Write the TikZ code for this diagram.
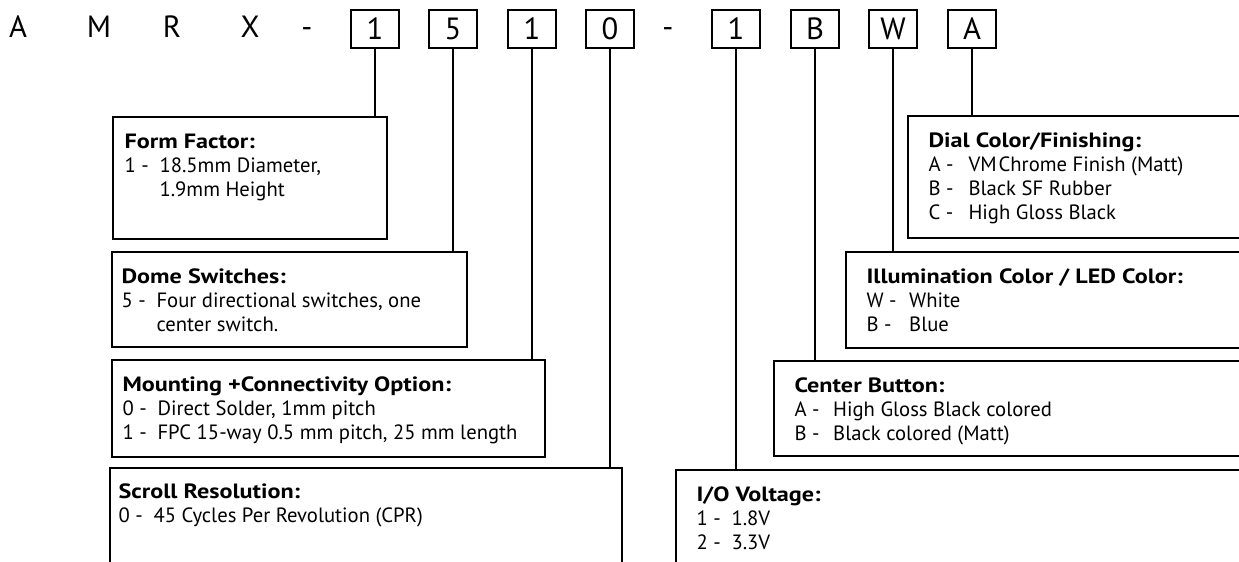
\documentclass[tikz,border=0pt]{standalone}
\usepackage{fontspec}
\setmainfont{PT Sans}[BoldFeatures={FakeStretch=1.17}]
\usetikzlibrary{positioning, calc, fit}

% one option line: key, then its value
\newcommand{\optline}[3][26.25pt]{\makebox[#1][l]{#2}#3}

\begin{document}
\begin{tikzpicture}[x=0.75pt, y=-0.75pt,
			letter/.style = {anchor=base, inner sep=0pt, font=\fontsize{23}{26}\selectfont},
			digit/.style = {rectangle, draw, line width=0.9pt, minimum width=36pt, minimum height=28.5pt, inner sep=0pt, font=\fontsize{23}{26}\selectfont},
			panel/.style = {rectangle, draw, line width=1.1pt, inner sep=0pt},
			legend/.style = {anchor=north west, align=left, inner sep=0pt, font=\fontsize{15.5}{18}\selectfont},
			link/.style = {line width=1.1pt},
		]

		\useasboundingbox (0,0) rectangle (1239,561);
		\clip (0,0) rectangle (1239,561);

		% part number
		\node[letter](pA) at (18,37.5){A};
		\node[letter](pM) at (99,37.5){M};
		\node[letter](pR) at (172,37.5){R};
		\node[letter](pX) at (250,37.5){X};
		\node[letter](pD1) at (307,37.5){-};
		\node[digit](dForm) at (375,29){1};
		\node[digit](dDome) at (453,29){5};
		\node[digit](dMount) at (532,29){1};
		\node[digit](dScroll) at (610,29){0};
		\node[letter](pD2) at (668,37.5){-};
		\node[digit](dVolt) at (736,29){1};
		\node[digit](dButton) at (815,29){B};
		\node[digit](dLed) at (893,29){W};
		\node[digit](dDial) at (972,29){A};

		% left panels
		\node[panel, fit={(113,117) (387,239)}](form){};
		\node[legend](formT) at ($(form.north west)+(12,17)$){\textbf{Form Factor:}\\
			\optline{1 -}{18.5mm Diameter,}\\
			\optline{}{1.9mm Height}};

		\node[panel, fit={(112,252) (467,347)}](dome){};
		\node[legend](domeT) at ($(dome.north west)+(10,17)$){\textbf{Dome Switches:}\\
			\optline{5 -}{Four directional switches, one}\\
			\optline{}{center switch.}};

		\node[panel, fit={(112,360) (545,457)}](mount){};
		\node[legend](mountT) at ($(mount.north west)+(11,17)$){\textbf{Mounting +Connectivity Option:}\\
			\optline{0 -}{Direct Solder, 1mm pitch}\\
			\optline{1 -}{FPC 15-way 0.5 mm pitch, 25 mm length}};

		\node[panel, fit={(110,468) (622,600)}](scroll){};
		\node[legend](scrollT) at ($(scroll.north west)+(9,16)$){\textbf{Scroll Resolution:}\\
			\optline{0 -}{45 Cycles Per Revolution (CPR)}};

		% right panels
		\node[panel, fit={(908,116) (1260,238)}](dial){};
		\node[legend](dialT) at ($(dial.north west)+(21,17)$){\textbf{Dial Color/Finishing:}\\
			\optline[30pt]{A -}{VM\kern1.5pt Chrome Finish (Matt)}\\
			\optline[30pt]{B -}{Black SF Rubber}\\
			\optline[30pt]{C -}{High Gloss Black}};

		\node[panel, fit={(846,252) (1260,348)}](led){};
		\node[legend](ledT) at ($(led.north west)+(21,17)$){\textbf{Illumination Color / LED Color:}\\
			\optline[32pt]{W -}{White}\\
			\optline[32pt]{B -}{Blue}};

		\node[panel, fit={(774,361) (1260,456)}](button){};
		\node[legend](buttonT) at ($(button.north west)+(21,17)$){\textbf{Center Button:}\\
			\optline[29pt]{A -}{High Gloss Black colored}\\
			\optline[29pt]{B -}{Black colored (Matt)}};

		\node[panel, fit={(676,470) (1260,600)}](volt){};
		\node[legend](voltT) at ($(volt.north west)+(21,17)$){\textbf{I/O Voltage:}\\
			\optline{1 -}{1.8V}\\
			\optline{2 -}{3.3V}};

		% leaders
		\draw[link](dForm.south)--(dForm.south |- form.north);
		\draw[link](dDome.south)--(dDome.south |- dome.north);
		\draw[link](dMount.south)--(dMount.south |- mount.north);
		\draw[link](dScroll.south)--(dScroll.south |- scroll.north);
		\draw[link](dVolt.south)--(dVolt.south |- volt.north);
		\draw[link](dButton.south)--(dButton.south |- button.north);
		\draw[link](dLed.south)--(dLed.south |- led.north);
		\draw[link](dDial.south)--(dDial.south |- dial.north);

	\end{tikzpicture}
\end{document}
